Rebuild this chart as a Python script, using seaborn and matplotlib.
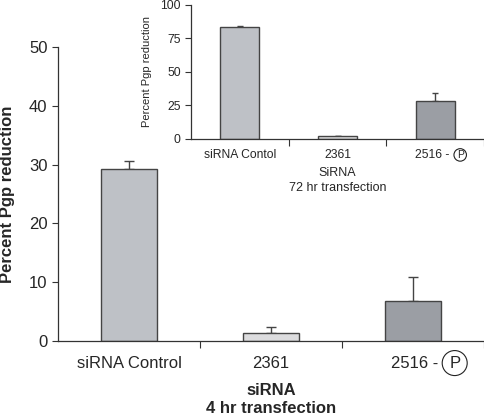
import matplotlib
matplotlib.use("Agg")
import matplotlib.pyplot as plt
import seaborn as sns
import pandas as pd
from matplotlib.transforms import blended_transform_factory

categories = ["siRNA Control", "2361", "2516"]
main_values = [29.2, 1.3, 6.85]
main_errors = [1.35, 1.1, 4.05]
inset_labels = ["siRNA Contol", "2361", "2516"]
inset_values = [83.5, 2.0, 28.2]
inset_errors = [0.6, 0.0, 6.0]
colors = ["#BCC0C8", "#DCDCDE", "#9A9EA5"]

sns.set_style("ticks")
plt.rcParams['font.family'] = ['Liberation Sans', 'DejaVu Sans']

fig = plt.figure(figsize=(4.85, 4.16), dpi=100)
ax = fig.add_axes([0.1196, 0.180, 0.8784, 0.707])
inset = fig.add_axes([0.394, 0.666, 0.604, 0.322])

def draw(axis, labels, values, errors, ymax, yticks, fs, capsize, lab_off, dash_off, circ_off, pfs, pad):
    df = pd.DataFrame({"cat": labels, "val": values})
    sns.barplot(data=df, x="cat", y="val", hue="cat", palette=colors, legend=False,
                width=0.4, edgecolor="#444444", linewidth=1.0, ax=axis, zorder=2)
    axis.errorbar(range(len(values)), values, yerr=[[0]*len(values), errors], fmt="none",
                  ecolor="#444444", elinewidth=1.0, capsize=capsize, capthick=1.0, zorder=1)
    axis.set_xlim(-0.5, 2.5)
    axis.set_ylim(0, ymax)
    axis.set_yticks(yticks)
    axis.tick_params(axis="y", labelsize=fs, length=4, width=0.8, color="#333333", pad=3.5)
    axis.set_xticks([0.5, 1.5, 2.5])
    axis.set_xticklabels([])
    axis.tick_params(axis="x", length=5, width=0.8, color="#333333")
    for sp in ["top", "right"]:
        axis.spines[sp].set_visible(False)
    for sp in ["left", "bottom"]:
        axis.spines[sp].set_color("#333333")
        axis.spines[sp].set_linewidth(0.9)
    tr = blended_transform_factory(axis.transData, axis.transAxes)
    for i in range(2):
        axis.annotate(labels[i], xy=(i, 0), xycoords=tr, xytext=(0, lab_off), textcoords="offset points",
                      ha="center", va="center", fontsize=fs)
    axis.annotate(labels[2] + " -", xy=(2, 0), xycoords=tr, xytext=(dash_off, lab_off), textcoords="offset points",
                  ha="right", va="center", fontsize=fs)
    axis.annotate("P", xy=(2, 0), xycoords=tr, xytext=(circ_off, lab_off), textcoords="offset points",
                  ha="center", va="center", fontsize=pfs,
                  bbox=dict(boxstyle="circle,pad=%s" % pad, fc="white", ec="#222222", lw=0.8))
    axis.set_xlabel("")
    axis.set_ylabel("")

draw(ax, categories, main_values, main_errors, 50, [0, 10, 20, 30, 40, 50], 12, 3.6,
     -15.8, 18.5, 30, 12, 0.3)
draw(inset, inset_labels, inset_values, inset_errors, 100, [0, 25, 50, 75, 100], 8.7, 2.5,
     -11.5, 10, 18, 7.5, 0.12)

ax.set_ylabel("Percent Pgp reduction", fontsize=12, fontweight="bold", labelpad=10)
ax.text(0.5, -0.167, "siRNA", transform=ax.transAxes, ha="center", va="center",
        fontsize=12, fontweight="bold")
ax.text(0.5, -0.228, "4 hr transfection", transform=ax.transAxes, ha="center", va="center",
        fontsize=12, fontweight="bold")
inset.set_ylabel("Percent Pgp reduction", fontsize=8, labelpad=6)
inset.text(0.5, -0.254, "SiRNA", transform=inset.transAxes, ha="center", va="center", fontsize=9)
inset.text(0.5, -0.366, "72 hr transfection", transform=inset.transAxes, ha="center", va="center", fontsize=9)

fig.savefig("out.png", dpi=100)
